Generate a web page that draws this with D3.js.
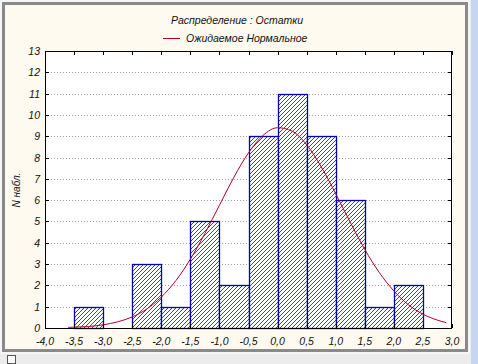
<!DOCTYPE html>
<html><head><meta charset="utf-8">
<script src="https://cdn.jsdelivr.net/npm/d3@7"></script>
<style>body{margin:0;background:#eeeeee;}svg{display:block;}</style>
</head><body>
<svg id="c" width="478" height="364"></svg>
<script>
const binStarts = [-3.5,-3.0,-2.5,-2.0,-1.5,-1.0,-0.5,0.0,0.5,1.0,1.5,2.0];
const binWidth = 0.5;
const counts = [1,0,3,1,5,2,9,11,9,6,1,2];
const curveX = [-3.6,-3.5,-3.25,-3.0,-2.75,-2.5,-2.25,-2.0,-1.75,-1.5,-1.25,-1.0,-0.75,-0.5,-0.25,0.0,0.25,0.5,0.75,1.0,1.25,1.5,1.75,2.0,2.25,2.5,2.75,2.9];
const curveY = [0.03,0.04,0.07,0.15,0.29,0.52,0.89,1.45,2.22,3.23,4.44,5.76,7.08,8.22,9.04,9.40,9.24,8.60,7.57,6.30,4.96,3.69,2.60,1.74,1.09,0.65,0.37,0.25];
const xTicks = [-4.0,-3.5,-3.0,-2.5,-2.0,-1.5,-1.0,-0.5,0.0,0.5,1.0,1.5,2.0,2.5,3.0];
const yTicks = [0,1,2,3,4,5,6,7,8,9,10,11,12,13];
const title = "Распределение : Остатки";
const legendLabel = "Ожидаемое Нормальное";
const yLabel = "N набл.";

const svg = d3.select("#c");
// window frame
svg.append("rect").attr("x",0).attr("y",0).attr("width",478).attr("height",364).attr("fill","#ececec");
svg.append("rect").attr("x",471).attr("y",0).attr("width",7).attr("height",364).attr("fill","#c6d6ee");
svg.append("rect").attr("x",3.5).attr("y",3.5).attr("width",463).attr("height",347).attr("fill","#fffaef").attr("stroke","#8a8a8a").attr("stroke-width",3);
svg.append("rect").attr("x",1).attr("y",1).attr("width",468).attr("height",352).attr("fill","none").attr("stroke","#ffffff").attr("stroke-width",1);
svg.append("rect").attr("x",7.5).attr("y",355.5).attr("width",8).attr("height",8).attr("fill","#fff").attr("stroke","#555");

const L=45, R=452, T=51, B=328;
const x = d3.scaleLinear().domain([-4,3]).range([L,R]);
const y = d3.scaleLinear().domain([0,13]).range([B,T]);

const defs = svg.append("defs");
const pat = defs.append("pattern").attr("id","hatch").attr("patternUnits","userSpaceOnUse").attr("width",4).attr("height",4);
pat.append("rect").attr("width",4).attr("height",4).attr("fill","#fff");
pat.append("path").attr("d","M-1,1 l2,-2 M0,4 l4,-4 M3,5 l2,-2").attr("stroke","#2a2ab4").attr("stroke-width",0.9);

svg.append("rect").attr("x",L).attr("y",T).attr("width",R-L).attr("height",B-T).attr("fill","#fff");

// grid
svg.append("g").selectAll("line").data(yTicks.slice(1,-1)).join("line")
  .attr("x1",L).attr("x2",R).attr("y1",d=>Math.round(y(d))+0.5).attr("y2",d=>Math.round(y(d))+0.5)
  .attr("stroke","#a0a0a0").attr("stroke-dasharray","1,2");

// bars
svg.append("g").selectAll("rect").data(binStarts.map((s,i)=>({s,c:counts[i]})).filter(d=>d.c>0)).join("rect")
  .attr("x",d=>Math.round(x(d.s))+0.5).attr("y",d=>Math.round(y(d.c))+0.5)
  .attr("width",d=>Math.round(x(d.s+binWidth))-Math.round(x(d.s)))
  .attr("height",d=>Math.round(y(0))-Math.round(y(d.c)))
  .attr("fill","url(#hatch)").attr("stroke","#0000b8").attr("stroke-width",1.3);

// curve
const line = d3.line().x(d=>x(d[0])).y(d=>y(d[1])).curve(d3.curveMonotoneX);
svg.append("path").datum(curveX.map((v,i)=>[v,curveY[i]])).attr("d",line)
  .attr("fill","none").attr("stroke","#b0002a").attr("stroke-width",1);

// frame
svg.append("rect").attr("x",L+0.5).attr("y",T+0.5).attr("width",R-L-1).attr("height",B-T).attr("fill","none").attr("stroke","#000").attr("stroke-width",1);

// axes
const ax = svg.append("g").attr("font-family","Liberation Sans, Arial, sans-serif").attr("font-style","italic").attr("font-size",10.5).attr("fill","#111");
const fmt = d=>d.toFixed(1).replace(".",",");
xTicks.forEach(t=>{
  const px = Math.round(x(t))+0.5;
  svg.append("line").attr("x1",px).attr("x2",px).attr("y1",T).attr("y2",T+4).attr("stroke","#000");
  svg.append("line").attr("x1",px).attr("x2",px).attr("y1",B).attr("y2",B-4).attr("stroke","#000");
  ax.append("text").attr("x",x(t)).attr("y",345).attr("text-anchor","middle").text(fmt(t));
});
yTicks.forEach(t=>{
  const py = Math.round(y(t))+0.5;
  svg.append("line").attr("x1",L).attr("x2",L+4).attr("y1",py).attr("y2",py).attr("stroke","#000");
  svg.append("line").attr("x1",R-4).attr("x2",R).attr("y1",py).attr("y2",py).attr("stroke","#000");
  ax.append("text").attr("x",L-5).attr("y",y(t)+4).attr("text-anchor","end").text(t);
});
ax.append("text").attr("transform","translate(20,190) rotate(-90)").attr("text-anchor","middle").attr("font-size",10).text(yLabel);

// title & legend
const tx = svg.append("g").attr("font-family","Liberation Sans, Arial, sans-serif").attr("font-style","italic").attr("font-size",10.5).attr("fill","#111");
tx.append("text").attr("x",237).attr("y",24).attr("text-anchor","middle").text(title);
svg.append("line").attr("x1",163).attr("x2",180).attr("y1",38.5).attr("y2",38.5).attr("stroke","#b0002a").attr("stroke-width",1);
tx.append("text").attr("x",186).attr("y",42).text(legendLabel);
</script>
</body></html>
